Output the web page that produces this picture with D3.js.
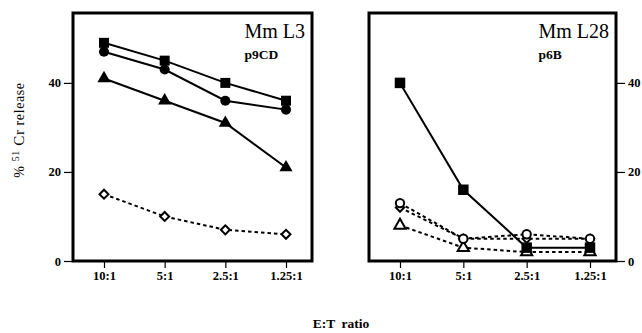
<!DOCTYPE html>
<html>
<head>
<meta charset="utf-8">
<script src="https://cdn.jsdelivr.net/npm/d3@7"></script>
<style>
  body { margin: 0; background: #fff; }
  svg text { font-family: "Liberation Serif", "DejaVu Serif", serif; fill: #000; }
</style>
</head>
<body>
<div id="chart"></div>
<script>
//~~~~~~~~~~~~~~~~~~~~~~~~~~~~~~~~~~~~
// Data
//~~~~~~~~~~~~~~~~~~~~~~~~~~~~~~~~~~~~
const ratios = ["10:1", "5:1", "2.5:1", "1.25:1"];
const yTicks = [0, 20, 40];

// Mm L3 / p9CD
const l3Square   = [49, 45, 40, 36];
const l3Circle   = [47, 43, 36, 34];
const l3Triangle = [41, 36, 31, 21];
const l3Diamond  = [15, 10, 7, 6];

// Mm L28 / p6B
const l28Square   = [40, 16, 3, 3];
const l28Circle   = [13, 5, 6, 5];
const l28Diamond  = [12, 5, 5, 5];
const l28Triangle = [8, 3, 2, 2];

const width = 642, height = 333;
const plotTop = 13, plotBottom = 261;
const serif = "Liberation Serif";

const svg = d3.select("#chart").append("svg")
    .attr("width", width)
    .attr("height", height)
    .attr("font-family", serif);

const y = d3.scaleLinear().domain([0, 55.7]).range([plotBottom, plotTop]);

function drawPanel(x0, x1, axisSide, title, sub, series) {
    const x = d3.scalePoint().domain(ratios).range([x0 + 31, x1 - 26]);
    const g = svg.append("g");

    // box
    g.append("rect")
        .attr("x", x0).attr("y", plotTop)
        .attr("width", x1 - x0).attr("height", plotBottom - plotTop)
        .attr("fill", "none").attr("stroke", "#000").attr("stroke-width", 3);

    // x axis
    const xa = g.append("g")
        .attr("transform", `translate(0,${plotBottom + 1})`)
        .call(d3.axisBottom(x).tickSize(6).tickPadding(3))
        .attr("font-family", serif);
    xa.select(".domain").remove();
    xa.selectAll("line").attr("stroke-width", 1.2);
    xa.selectAll("text").attr("font-size", 12.5).attr("font-weight", "bold");

    // y axis
    const ax = axisSide === "left" ? d3.axisLeft(y) : d3.axisRight(y);
    const ya = g.append("g")
        .attr("transform", `translate(${axisSide === "left" ? x0 - 1 : x1 + 1},0)`)
        .call(ax.tickValues(yTicks).tickSize(8).tickPadding(3))
        .attr("font-family", serif);
    ya.select(".domain").remove();
    ya.selectAll("line").attr("stroke-width", 1.2);
    ya.selectAll("text").attr("font-size", 12.5).attr("font-weight", "bold");

    // titles
    const t = g.append("text").attr("x", x1 - 7).attr("y", plotTop + 25)
        .attr("text-anchor", "end").attr("font-size", 20).text(title);
    const tx = t.node().getBBox().x;
    g.append("text").attr("x", tx).attr("y", plotTop + 46)
        .attr("font-size", 13.5)
        .attr("font-weight", "bold").text(sub);

    const line = d3.line().x((d, i) => x(ratios[i])).y(d => y(d));

    series.forEach(s => {
        g.append("path")
            .datum(s.values)
            .attr("d", line)
            .attr("fill", "none")
            .attr("stroke", "#000")
            .attr("stroke-width", 2)
            .attr("stroke-dasharray", s.dashed ? "3.5,3" : null);

        const sym = d3.symbol().type(s.shape).size(s.size);
        g.selectAll(null)
            .data(s.values)
            .join("path")
            .attr("transform", (d, i) => `translate(${x(ratios[i])},${y(d)})${s.rotate ? " rotate(45)" : ""}`)
            .attr("d", sym)
            .attr("fill", s.open ? "#fff" : "#000")
            .attr("stroke", "#000")
            .attr("stroke-width", s.open ? 2 : 0);
    });
}

drawPanel(73, 312, "left", "Mm L3", "p9CD", [
    { values: l3Diamond, shape: d3.symbolSquare, size: 40, open: true, dashed: true, rotate: true },
    { values: l3Triangle, shape: d3.symbolTriangle, size: 75 },
    { values: l3Circle, shape: d3.symbolCircle, size: 80 },
    { values: l3Square, shape: d3.symbolSquare, size: 100 }
]);

drawPanel(369, 616, "right", "Mm L28", "p6B", [
    { values: l28Triangle, shape: d3.symbolTriangle, size: 55, open: true, dashed: true },
    { values: l28Diamond, shape: d3.symbolSquare, size: 35, open: true, dashed: true, rotate: true },
    { values: l28Circle, shape: d3.symbolCircle, size: 55, open: true, dashed: true },
    { values: l28Square, shape: d3.symbolSquare, size: 110 }
]);

// axis titles
svg.append("text")
    .attr("transform", "translate(24,130) rotate(-90)")
    .attr("text-anchor", "middle")
    .attr("font-size", 14)
    .attr("fill", "#000")
    .attr("letter-spacing", 0.6)
    .html('%  <tspan font-size="10" dy="-5">51</tspan><tspan dy="5" font-size="15"> Cr</tspan>  release');

svg.append("text")
    .attr("x", 341).attr("y", 328)
    .attr("text-anchor", "middle")
    .attr("font-size", 13.5)
    .attr("font-weight", "bold")
    .attr("fill", "#000")
    .attr("word-spacing", 3)
    .text("E:T  ratio");
</script>
</body>
</html>
